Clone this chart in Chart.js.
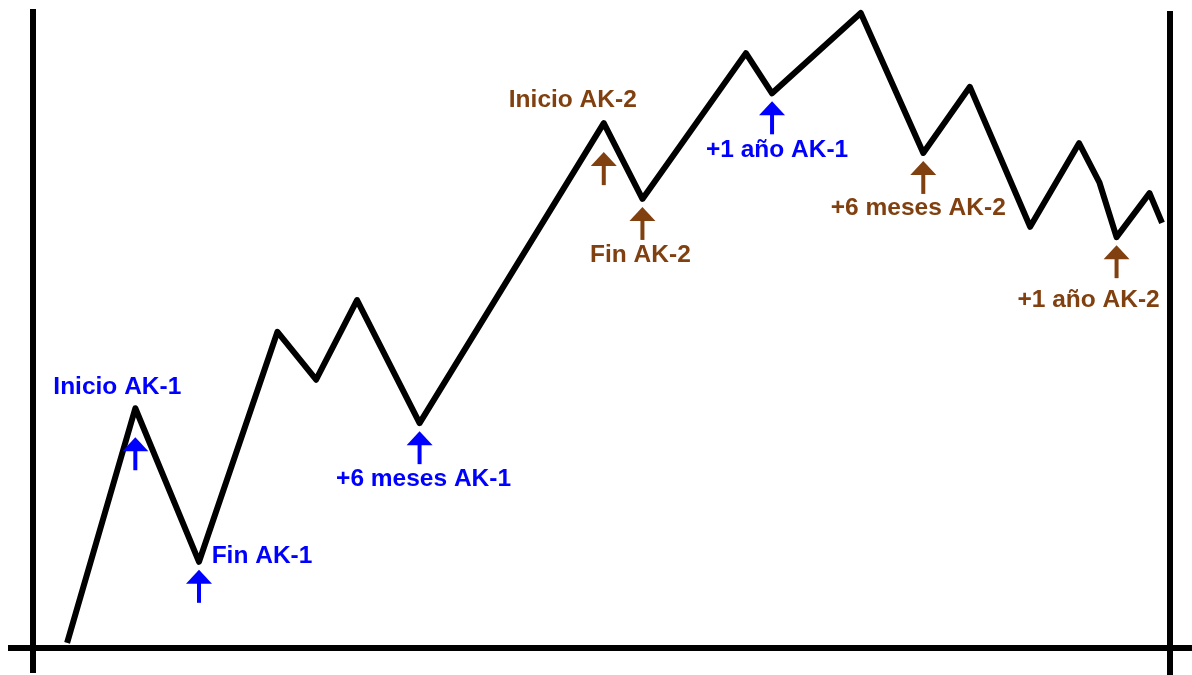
<!DOCTYPE html>
<html>
<head>
<meta charset="utf-8">
<script src="https://cdn.jsdelivr.net/npm/chart.js@4/dist/chart.umd.min.js"></script>
<style>
  html, body { margin: 0; padding: 0; background: #fff; overflow: hidden; }
  canvas { display: block; }
</style>
</head>
<body>
<canvas id="chartCanvas" width="1192" height="675"></canvas>
<script>
// Serie (tiempo en % del periodo, precio en % del rango)
const tiempo = [3.0, 9.0, 14.6, 21.5, 24.9, 28.5, 34.0, 50.2, 53.6, 62.7, 65.0, 72.8, 78.3, 82.4, 87.7, 92.0, 93.8, 95.3, 98.2, 99.3];
const precio = [0.8, 37.0, 13.3, 48.8, 41.4, 53.7, 34.7, 81.0, 69.3, 91.8, 85.6, 98.0, 76.4, 86.6, 65.0, 77.9, 71.8, 63.4, 70.2, 65.6];

// Eventos marcados con flechas
const eventLabels = ['Inicio AK-1', 'Fin AK-1', '+6 meses AK-1', '+1 año AK-1',
                     'Inicio AK-2', 'Fin AK-2', '+6 meses AK-2', '+1 año AK-2'];
const eventPoint = [1, 2, 6, 10, 7, 8, 12, 17];
const eventGroup = ['AK-1', 'AK-1', 'AK-1', 'AK-1', 'AK-2', 'AK-2', 'AK-2', 'AK-2'];

const groupColors = { 'AK-1': '#0000ff', 'AK-2': '#804010' };
// label offset from the marked point (px)
const labelOffsets = [[-18, -21], [63, -6], [4, 56], [5, 57], [-31, -23], [-2, 56], [-5, 55], [-28, 63]];

const axesLines = {
    id: 'axesLines',
    beforeDatasetsDraw(chart) {
        const { ctx, chartArea: ca, width, height } = chart;
        ctx.save();
        ctx.strokeStyle = '#000';
        ctx.lineWidth = 6;
        ctx.lineCap = 'butt';
        ctx.beginPath();
        ctx.moveTo(ca.left, 9);
        ctx.lineTo(ca.left, height - 2);
        ctx.moveTo(ca.right, 11);
        ctx.lineTo(ca.right, height);
        ctx.moveTo(8, ca.bottom);
        ctx.lineTo(width, ca.bottom);
        ctx.stroke();
        ctx.restore();
    }
};

const eventArrows = {
    id: 'eventArrows',
    afterDatasetsDraw(chart) {
        const ctx = chart.ctx;
        const meta = chart.getDatasetMeta(0);
        ctx.save();
        ctx.font = 'bold 24.5px "Liberation Sans", Arial, sans-serif';
        ctx.textAlign = 'center';
        ctx.textBaseline = 'middle';
        eventLabels.forEach((label, i) => {
            const idx = eventPoint[i];
            const pt = meta.data[idx];
            const isPeak = precio[idx] > precio[idx - 1] && precio[idx] > precio[idx + 1];
            const tip = pt.y + (isPeak ? 29 : 8);
            const color = groupColors[eventGroup[i]];
            ctx.fillStyle = color;
            ctx.strokeStyle = color;
            // shaft
            ctx.lineWidth = 4;
            ctx.beginPath();
            ctx.moveTo(pt.x, tip + 12);
            ctx.lineTo(pt.x, tip + 33);
            ctx.stroke();
            // head
            ctx.beginPath();
            ctx.moveTo(pt.x, tip);
            ctx.lineTo(pt.x - 13, tip + 14);
            ctx.lineTo(pt.x + 13, tip + 14);
            ctx.closePath();
            ctx.fill();
            // label
            const off = labelOffsets[i];
            ctx.fillText(label, pt.x + off[0], pt.y + off[1]);
        });
        ctx.restore();
    }
};

const ctx = document.getElementById('chartCanvas').getContext('2d');
const chart = new Chart(ctx, {
    type: 'line',
    data: {
        datasets: [{
            label: 'Precio',
            data: tiempo.map((t, i) => ({ x: t, y: precio[i] })),
            borderColor: '#000',
            borderWidth: 6,
            borderJoinStyle: 'round',
            borderCapStyle: 'butt',
            pointRadius: 0,
            tension: 0,
            fill: false
        }]
    },
    options: {
        responsive: false,
        animation: false,
        layout: { padding: { left: 33, right: 22, top: 0, bottom: 27 } },
        scales: {
            x: { type: 'linear', min: 0, max: 100, display: false },
            y: { min: 0, max: 100, display: false }
        },
        plugins: {
            legend: { display: false },
            tooltip: { enabled: false }
        }
    },
    plugins: [axesLines, eventArrows]
});
</script>
</body>
</html>
